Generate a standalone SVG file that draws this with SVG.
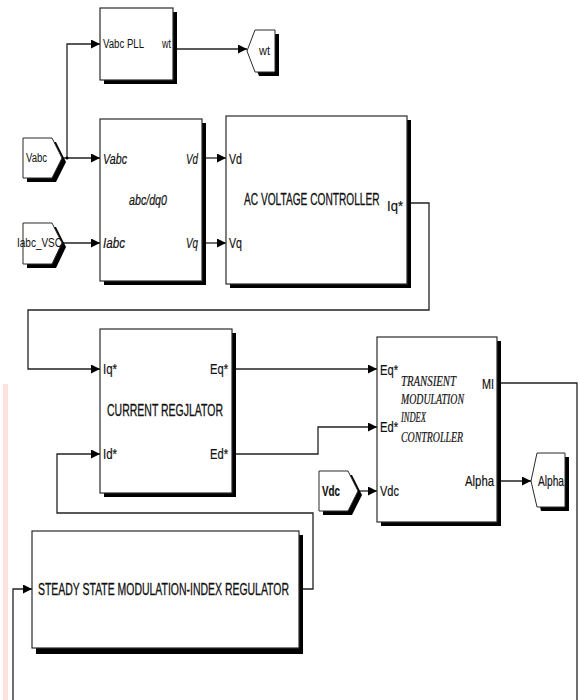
<svg xmlns="http://www.w3.org/2000/svg" width="579" height="700" viewBox="0 0 579 700">
<style>
.bx{fill:#fff;stroke:#2a2a2a;stroke-width:1.2}
.sh{fill:#000}
.tag{fill:#fff;stroke:#2a2a2a;stroke-width:1}
.ln{fill:none;stroke:#222;stroke-width:1.3}
.p{font-family:"Liberation Sans Narrow","Liberation Sans",Arial,sans-serif;font-size:15px;fill:#111;stroke:#111;stroke-width:0.2}
.pi{font-family:"Liberation Sans Narrow","Liberation Sans",Arial,sans-serif;font-size:15px;font-style:italic;fill:#111;stroke:#111;stroke-width:0.2}
.t{font-family:"Liberation Sans Narrow","Liberation Sans",Arial,sans-serif;font-size:16px;fill:#111;stroke:#111;stroke-width:0.3}
.s{font-family:"Liberation Sans Narrow","Liberation Sans",Arial,sans-serif;font-size:12px;fill:#111}
.tm{font-family:"Liberation Serif","Times New Roman",serif;font-size:14px;font-style:italic;fill:#111;stroke:#111;stroke-width:0.2}
</style>
<defs>
<marker id="ah" viewBox="0 0 10 10" refX="10" refY="5" markerWidth="9" markerHeight="9" markerUnits="userSpaceOnUse" orient="auto">
<path d="M0,0 L10,5 L0,10 z" fill="#000"/>
</marker>
</defs>
<rect x="0" y="0" width="579" height="700" fill="#fff"/>
<rect x="3" y="384" width="5" height="316" fill="#fde2dd"/>

<g id="connectors">
<path class="ln" d="M62,158 H100" marker-end="url(#ah)"/>
<path class="ln" d="M67,158 V44 H100" marker-end="url(#ah)"/>
<circle cx="67" cy="158" r="1.5" fill="#000"/>
<path class="ln" d="M62,243 H100" marker-end="url(#ah)"/>
<path class="ln" d="M177,49 H247" marker-end="url(#ah)"/>
<path class="ln" d="M202,158 H226" marker-end="url(#ah)"/>
<path class="ln" d="M202,243 H226" marker-end="url(#ah)"/>
<path class="ln" d="M407,203 H429 V310 H28 V369 H100" marker-end="url(#ah)"/>
<path class="ln" d="M232,369 H377" marker-end="url(#ah)"/>
<path class="ln" d="M232,454 H318 V427 H377" marker-end="url(#ah)"/>
<path class="ln" d="M358,491 H377" marker-end="url(#ah)"/>
<path class="ln" d="M497,481 H531" marker-end="url(#ah)"/>
<path class="ln" d="M497,383 H577 V700"/>
<path class="ln" d="M299,589 H313 V513 H57 V454 H100" marker-end="url(#ah)"/>
<path class="ln" d="M13,700 V589 H32" marker-end="url(#ah)"/>
</g>

<g id="pll">
<rect class="sh" x="104" y="12" width="73" height="72"/>
<rect class="bx" x="100" y="8" width="73" height="72"/>
<text class="s" x="103" y="48" textLength="41" lengthAdjust="spacingAndGlyphs">Vabc PLL</text>
<text class="s" x="162" y="48" textLength="9" lengthAdjust="spacingAndGlyphs">wt</text>
</g>

<g id="wt-tag">
<polygon class="sh" points="251,55 259,34 279,34 279,76 259,76"/>
<polygon class="tag" points="247,51 255,30 275,30 275,72 255,72"/>
<text class="s" x="259" y="55" textLength="11" lengthAdjust="spacingAndGlyphs">wt</text>
</g>

<g id="vabc-tag">
<polygon class="sh" points="27,142 56,142 66,162 56,182 27,182"/>
<polygon class="tag" points="23,138 52,138 62,158 52,178 23,178"/>
<text class="s" x="26" y="162" textLength="21" lengthAdjust="spacingAndGlyphs">Vabc</text>
</g>

<g id="iabc-tag">
<polygon class="sh" points="27,227 56,227 66,247 56,268 27,268"/>
<polygon class="tag" points="23,223 52,223 62,243 52,264 23,264"/>
<text class="s" x="17" y="247" textLength="45" lengthAdjust="spacingAndGlyphs">Iabc_VSC</text>
</g>

<g id="abc-dq0">
<rect class="sh" x="104" y="123" width="102" height="162"/>
<rect class="bx" x="100" y="119" width="102" height="162"/>
<text class="pi" x="103" y="164" textLength="24" lengthAdjust="spacingAndGlyphs">Vabc</text>
<text class="pi" x="103" y="248" textLength="22" lengthAdjust="spacingAndGlyphs">Iabc</text>
<text class="pi" x="129" y="205" textLength="38" lengthAdjust="spacingAndGlyphs">abc/dq0</text>
<text class="pi" x="186" y="164" textLength="12" lengthAdjust="spacingAndGlyphs">Vd</text>
<text class="pi" x="186" y="248" textLength="12" lengthAdjust="spacingAndGlyphs">Vq</text>
</g>

<g id="ac-voltage-controller">
<rect class="sh" x="230" y="120" width="181" height="168"/>
<rect class="bx" x="226" y="116" width="181" height="168"/>
<text class="p" x="229" y="164" textLength="13" lengthAdjust="spacingAndGlyphs">Vd</text>
<text class="p" x="229" y="248" textLength="13" lengthAdjust="spacingAndGlyphs">Vq</text>
<text class="t" transform="translate(244,205) scale(0.635,1)" x="0" y="0">AC VOLTAGE CONTROLLER</text>
<text class="p" x="387" y="211" textLength="16" lengthAdjust="spacingAndGlyphs">Iq*</text>
</g>

<g id="current-regulator">
<rect class="sh" x="104" y="333" width="132" height="164"/>
<rect class="bx" x="100" y="329" width="132" height="164"/>
<text class="p" x="103" y="374" textLength="14" lengthAdjust="spacingAndGlyphs">Iq*</text>
<text class="p" x="103" y="459" textLength="14" lengthAdjust="spacingAndGlyphs">Id*</text>
<text class="p" x="210" y="374" textLength="18" lengthAdjust="spacingAndGlyphs">Eq*</text>
<text class="p" x="210" y="459" textLength="18" lengthAdjust="spacingAndGlyphs">Ed*</text>
<text class="t" x="107" y="416" textLength="116" lengthAdjust="spacingAndGlyphs">CURRENT REGJLATOR</text>
</g>

<g id="transient-mi-controller">
<rect class="sh" x="381" y="341" width="120" height="185"/>
<rect class="bx" x="377" y="337" width="120" height="185"/>
<text class="p" x="380" y="375" textLength="18" lengthAdjust="spacingAndGlyphs">Eq*</text>
<text class="p" x="380" y="432" textLength="18" lengthAdjust="spacingAndGlyphs">Ed*</text>
<text class="p" x="380" y="496" textLength="19" lengthAdjust="spacingAndGlyphs">Vdc</text>
<text class="tm" x="401" y="386" textLength="55" lengthAdjust="spacingAndGlyphs">TRANSIENT</text>
<text class="tm" x="401" y="404" textLength="63" lengthAdjust="spacingAndGlyphs">MODULATION</text>
<text class="tm" x="401" y="422" textLength="25" lengthAdjust="spacingAndGlyphs">INDEX</text>
<text class="tm" x="401" y="442" textLength="62" lengthAdjust="spacingAndGlyphs">CONTROLLER</text>
<text class="p" x="482" y="389" textLength="12" lengthAdjust="spacingAndGlyphs">MI</text>
<text class="p" x="465" y="486" textLength="29" lengthAdjust="spacingAndGlyphs">Alpha</text>
</g>

<g id="alpha-tag">
<polygon class="sh" points="535,485 541,457 569,457 569,511 541,511"/>
<polygon class="tag" points="531,481 537,453 565,453 565,507 537,507"/>
<text class="p" x="538" y="486" textLength="26" lengthAdjust="spacingAndGlyphs">Alpha</text>
</g>

<g id="vdc-tag">
<polygon class="sh" points="323,475 352,475 362,495 352,515 323,515"/>
<polygon class="tag" points="319,471 348,471 358,491 348,511 319,511"/>
<text class="p" x="322" y="496" font-weight="bold" textLength="18" lengthAdjust="spacingAndGlyphs">Vdc</text>
</g>

<g id="steady-state-mi-regulator">
<rect class="sh" x="36" y="535" width="267" height="119"/>
<rect class="bx" x="32" y="531" width="267" height="117"/>
<text class="t" x="38" y="595" textLength="251" lengthAdjust="spacingAndGlyphs">STEADY STATE MODULATION-INDEX REGULATOR</text>
</g>
</svg>
